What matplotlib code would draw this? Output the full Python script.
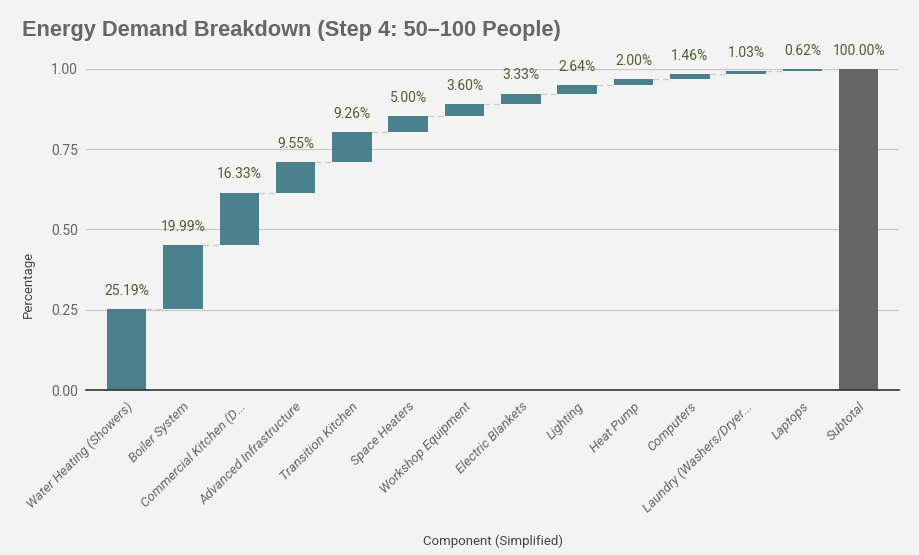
import matplotlib.pyplot as plt
import numpy as np

componentes = ["Water Heating (Showers)", "Boiler System", "Commercial Kitchen (D...",
               "Advanced Infrastructure", "Transition Kitchen", "Space Heaters",
               "Workshop Equipment", "Electric Blankets", "Lighting", "Heat Pump",
               "Computers", "Laundry (Washers/Dryer...", "Laptops"]
porcentajes = [25.19, 19.99, 16.33, 9.55, 9.26, 5.00, 3.60, 3.33, 2.64, 2.00, 1.46, 1.03, 0.62]
subtotal = 100.00

plt.rcParams['font.family'] = ['Roboto', 'DejaVu Sans']

fondo = "#f3f3f3"
gris = "#666666"
azul = "#4a7f8c"
verde = "#4b6131"

fig = plt.figure(figsize=(9.19, 5.55), dpi=100, facecolor=fondo)
ax = fig.add_axes([0.0936, 0.297, 0.885, 0.579], facecolor=fondo)

valores = np.array(porcentajes) / 100
acumulado = np.cumsum(valores)
inicio = acumulado - valores
x = np.arange(len(componentes))

ax.bar(x, valores, bottom=inicio, width=0.7, color=azul, zorder=3)
ax.bar(len(componentes), subtotal / 100, width=0.7, color=gris, zorder=3)

# lineas de conexion entre barras
for i in range(len(componentes)):
    ax.plot([x[i] + 0.35, x[i] + 0.65], [acumulado[i], acumulado[i]],
            color="#cccccc", lw=1, ls=(0, (4, 3)), zorder=2)

for i in range(len(componentes)):
    ax.text(x[i], acumulado[i] + 0.035, f"{porcentajes[i]:.2f}%", ha="center", va="bottom",
            color=verde, fontsize=10, clip_on=False)
ax.text(len(componentes), 1.0 + 0.035, f"{subtotal:.2f}%", ha="center", va="bottom",
        color=verde, fontsize=10, clip_on=False)

ax.set_xlim(-0.72, len(componentes) + 0.72)
ax.set_ylim(0, 1.0)
ax.set_yticks([0, 0.25, 0.5, 0.75, 1.0])
ax.set_yticklabels(["0.00", "0.25", "0.50", "0.75", "1.00"])
ax.grid(axis="y", color="#c8c8c8", lw=0.9, zorder=0)

etiquetas = componentes + ["Subtotal"]
ax.set_xticks(range(len(etiquetas)))
ax.set_xticklabels(etiquetas, rotation=45, ha="right", rotation_mode="anchor",
                   style="italic", color=gris, fontsize=9.5)
ax.tick_params(axis="y", length=0, colors=gris, labelsize=10, pad=6)
ax.tick_params(axis="x", length=0, pad=7)

for s in ["top", "right", "left"]:
    ax.spines[s].set_visible(False)
ax.spines["bottom"].set_color("#333333")
ax.spines["bottom"].set_linewidth(1.2)
ax.spines["bottom"].set_zorder(4)

ax.set_ylabel("Percentage", color="#444444", fontsize=9.5)
ax.yaxis.set_label_coords(-0.063, 0.33)
ax.set_xlabel("Component (Simplified)", color="#444444", fontsize=9.5)
ax.xaxis.set_label_coords(0.5, -0.45)

fig.text(0.024, 0.945, "Energy Demand Breakdown (Step 4: 50\u2013100 People)",
         fontsize=15.7, fontweight="bold", color=gris, ha="left", va="center",
         family=["Liberation Sans", "DejaVu Sans"])

plt.savefig("out.png", dpi=100, facecolor=fondo)
